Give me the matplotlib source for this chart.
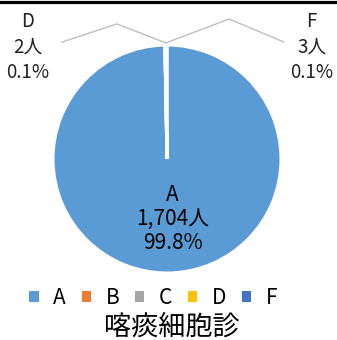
import numpy as np
import matplotlib

matplotlib.use("Agg")
import matplotlib.pyplot as plt
from matplotlib.lines import Line2D
from matplotlib.patches import Patch

plt.rcParams["font.family"] = ["Noto Sans CJK JP", "DejaVu Sans"]

categories = ["A", "B", "C", "D", "F"]
counts = [1704, 0, 0, 2, 3]
percents = [99.8, 0.0, 0.0, 0.1, 0.1]
colors = ["#5B9BD5", "#ED7D31", "#A5A5A5", "#FFC000", "#4472C4"]
title = "喀痰細胞診"

W, H = 337, 340
fig = plt.figure(figsize=(W / 100, H / 100), dpi=100)

# pie axes: centre (167, 159) px, radius 114 px
cx, cy, r = 167, 159, 114
ax = fig.add_axes([(cx - r) / W, (H - cy - r) / H, 2 * r / W, 2 * r / H])
wedges, _ = ax.pie(
    counts,
    colors=colors,
    startangle=90,
    counterclock=False,
    wedgeprops=dict(edgecolor="white", linewidth=2.2),
)
ax.set_xlim(-1, 1)
ax.set_ylim(-1, 1)


def label_text(i):
    return f"{categories[i]}\n{counts[i]:,}人\n{percents[i]:.1f}%"


# big slice label inside
ax.text(0.05, -0.53, label_text(0), ha="center", va="center",
        fontsize=15, linespacing=1.12, color="black")

# small slices: leader lines + outside labels
outside = {
    3: dict(elbow=(-0.44, 1.185), end=(-0.92, 1.026), text=(-1.22, 0.98)),
    4: dict(elbow=(0.545, 1.228), end=(1.026, 1.026), text=(1.27, 0.98)),
}
for i, pos in outside.items():
    w = wedges[i]
    mid = np.deg2rad((w.theta1 + w.theta2) / 2)
    ax.plot([1.02 * np.cos(mid), pos["elbow"][0], pos["end"][0]],
            [1.02 * np.sin(mid), pos["elbow"][1], pos["end"][1]],
            color="#BFBFBF", lw=1.0, clip_on=False)
    ax.text(pos["text"][0], pos["text"][1], label_text(i), ha="center",
            va="center", fontsize=13.5, linespacing=1.28, color="#222222")

# top rule
fig.add_artist(Line2D([0, 1], [1 - 1.5 / H, 1 - 1.5 / H], color="black",
                      lw=2.3, transform=fig.transFigure))

handles = [Patch(facecolor=c, edgecolor="none") for c in colors]
fig.legend(handles, categories, loc="center", bbox_to_anchor=(0.455, 1 - 298 / H),
           ncol=5, frameon=False, fontsize=15, handlelength=0.45,
           handleheight=0.45, handletextpad=0.7, columnspacing=0.75,
           borderpad=0, borderaxespad=0)

fig.text(172 / W, 1 - 327 / H, title, ha="center", va="center", fontsize=19.5)

fig.savefig("out.png", dpi=100)
